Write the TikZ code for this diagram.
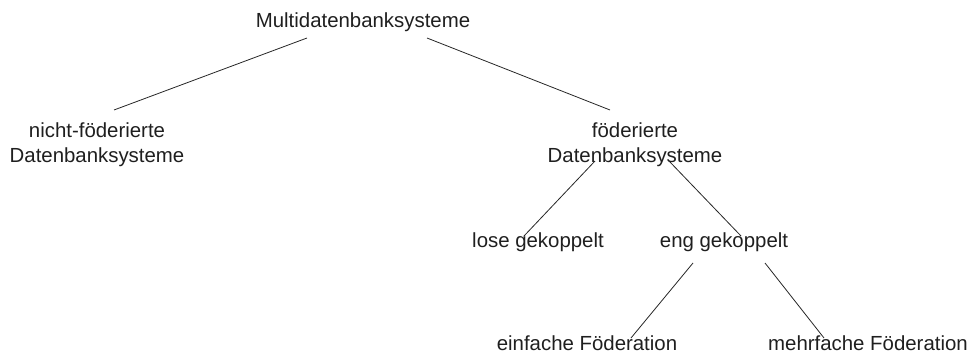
\documentclass[tikz,border=0pt]{standalone}
\usepackage{fontspec}
\setmainfont{Liberation Sans}
\begin{document}
\begin{tikzpicture}[x=1pt,y=-1pt,
  label/.style={inner sep=0pt,anchor=base,align=center,text=black!88,
    font=\fontsize{20.4}{25}\selectfont},
  edge/.style={draw=black!85,line width=0.8pt}]
\useasboundingbox (0,0) rectangle (972,353);

% classification tree (base = baseline of the last line)
\node[label] (root) at (363,28) {Multidatenbanksysteme};
\node[label] (nfd)  at (97,162) {nicht-föderierte\\Datenbanksysteme};
\node[label] (fd)   at (635,162) {föderierte\\Datenbanksysteme};
\node[label] (lose) at (538,247) {lose gekoppelt};
\node[label] (eng)  at (724,247) {eng gekoppelt};
\node[label] (einf) at (587,350) {einfache Föderation};
\node[label] (mehr) at (868,350) {mehrfache Föderation};

% branches
\draw[edge] ([shift={(-56,10)}]root.base) -- ([shift={(17,-52)}]nfd.base);
\draw[edge] ([shift={(64,10)}]root.base) -- ([shift={(-25,-52)}]fd.base);
\draw[edge] ([shift={(-40,-1)}]fd.base) -- ([shift={(-14,-11)}]lose.base);
\draw[edge] ([shift={(34,-1)}]fd.base) -- ([shift={(17,-11)}]eng.base);
\draw[edge] ([shift={(-31,16)}]eng.base) -- ([shift={(44,-12)}]einf.base);
\draw[edge] ([shift={(41,16)}]eng.base) -- ([shift={(-44,-12)}]mehr.base);
\end{tikzpicture}
\end{document}
